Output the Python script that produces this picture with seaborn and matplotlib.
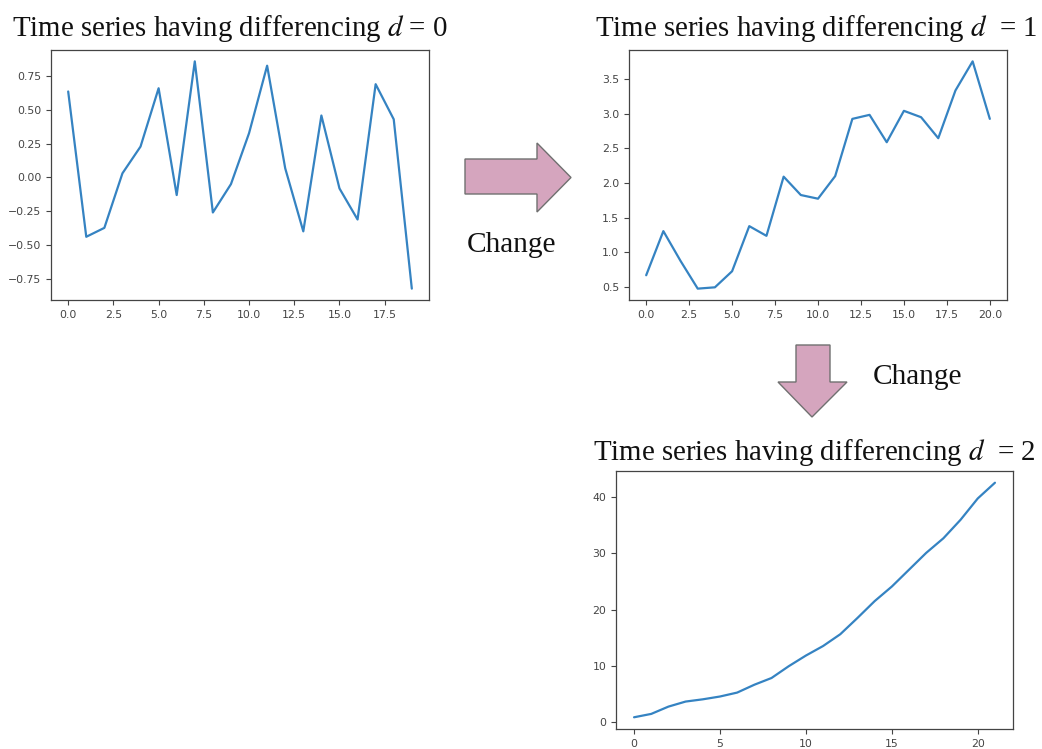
import matplotlib
matplotlib.use("Agg")
import matplotlib.pyplot as plt
from matplotlib.patches import Polygon
import seaborn as sns

# Series at each differencing order
d0_values = [0.636, -0.44, -0.374, 0.03, 0.228, 0.66, -0.131, 0.859, -0.26, -0.05,
             0.327, 0.827, 0.067, -0.40, 0.458, -0.082, -0.312, 0.69, 0.43, -0.824]
d1_values = [0.669, 1.306, 0.876, 0.476, 0.495, 0.727, 1.378, 1.238, 2.092, 1.827,
             1.774, 2.10, 2.926, 2.984, 2.589, 3.042, 2.95, 2.647, 3.336, 3.756, 2.926]
d2_values = [0.8, 1.4, 2.7, 3.6, 4.0, 4.5, 5.2, 6.6, 7.8, 9.9, 11.8, 13.5, 15.6,
             18.5, 21.5, 24.1, 27.1, 30.1, 32.7, 36.0, 39.8, 42.6]

titles = ["Time series having differencing $d$ = 0",
          "Time series having differencing $d$  = 1",
          "Time series having differencing $d$  = 2"]
change_label = "Change"

sns.set_style("ticks")
plt.rcParams.update({
    "mathtext.fontset": "stix",
    "xtick.labelsize": 7.8,
    "ytick.labelsize": 7.8,
    "xtick.color": "#444444",
    "ytick.color": "#444444",
    "axes.edgecolor": "#444444",
    "axes.linewidth": 0.9,
    "xtick.major.size": 3.5,
    "ytick.major.size": 3.5,
})
plt.rcParams["font.family"] = ["DejaVu Sans"]

W, H = 1042, 749
fig = plt.figure(figsize=(W / 100, H / 100), dpi=100)


def box(left, top, right, bottom):
    return [left / W, 1 - bottom / H, (right - left) / W, (bottom - top) / H]


def px(x, y):
    return (x / W, 1 - y / H)


ax1 = fig.add_axes(box(51, 50, 429, 300))
ax2 = fig.add_axes(box(629, 50, 1007, 300))
ax3 = fig.add_axes(box(616, 471, 1013, 729))

line_kw = dict(color="#3583c2", linewidth=1.6)
for ax, vals in [(ax1, d0_values), (ax2, d1_values), (ax3, d2_values)]:
    sns.lineplot(x=list(range(len(vals))), y=vals, ax=ax, **line_kw)
    ax.set_xlabel("")
    ax.set_ylabel("")
    for s in ax.spines.values():
        s.set_visible(True)

serif = ["Liberation Serif", "DejaVu Serif"]
title_size = 20.8
title_pos = [(12, 36), (595, 36), (593, 460)]
for (x, y), t in zip(title_pos, titles):
    fig.text(*px(x, y), t, family=serif, fontsize=title_size, ha="left",
             va="baseline", color="#111111")

# Arrows between the panels
arrow_fill = "#d5a5be"
arrow_edge = "#707070"
right_arrow = [(465, 159), (537, 159), (537, 143), (571, 177.5),
               (537, 212), (537, 194), (465, 194)]
down_arrow = [(796, 345), (830, 345), (830, 382), (847, 382),
              (812, 417), (778, 382), (796, 382)]
for pts in (right_arrow, down_arrow):
    fig.add_artist(Polygon([px(x, y) for x, y in pts], closed=True,
                           transform=fig.transFigure, facecolor=arrow_fill,
                           edgecolor=arrow_edge, linewidth=1.0))

fig.text(*px(512, 245), change_label, family=serif, fontsize=21.2,
         ha="center", va="center", color="#111111")
fig.text(*px(917, 377), change_label, family=serif, fontsize=21.2,
         ha="center", va="center", color="#111111")

fig.savefig("out.png", dpi=100, facecolor="white")
